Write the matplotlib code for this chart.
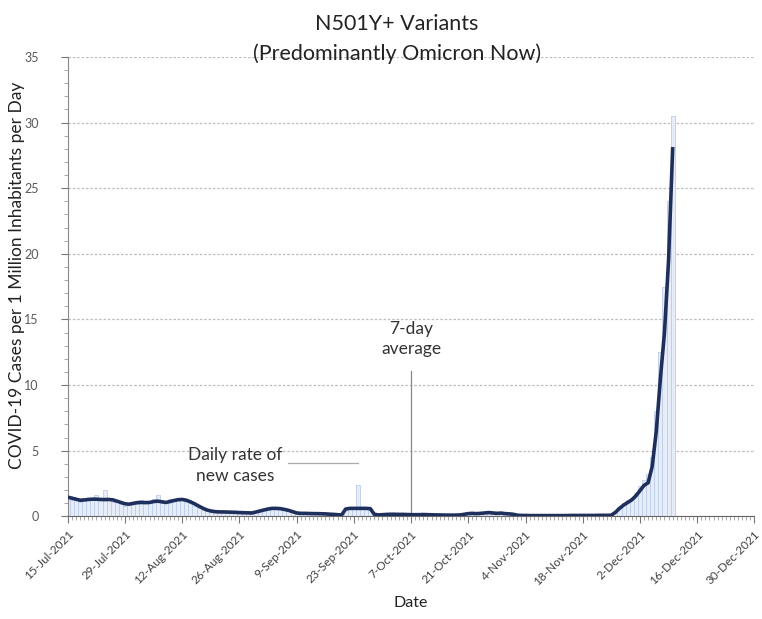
import numpy as np
import pandas as pd
import matplotlib
matplotlib.use("Agg")
from matplotlib import pyplot as plt
from matplotlib.ticker import MultipleLocator

plt.rcParams['font.family'] = ['Lato', 'DejaVu Sans']

start_date = '2021-07-15'

# 7-day average, one value per day starting 15-Jul-2021
avg_7day = [
    1.45, 1.38, 1.30, 1.22, 1.24, 1.28, 1.30,
    1.30, 1.28, 1.27, 1.28, 1.25, 1.15, 1.05,
    0.95, 0.92, 0.98, 1.04, 1.05, 1.04, 1.05,
    1.12, 1.15, 1.10, 1.05, 1.12, 1.20, 1.26,
    1.28, 1.22, 1.10, 0.95, 0.78, 0.62, 0.48,
    0.40, 0.35, 0.33, 0.33, 0.32, 0.31, 0.30,
    0.28, 0.27, 0.26, 0.25, 0.32, 0.40, 0.48,
    0.55, 0.60, 0.60, 0.58, 0.52, 0.45, 0.35,
    0.25, 0.22, 0.22, 0.21, 0.20, 0.20, 0.19,
    0.18, 0.16, 0.14, 0.12, 0.10, 0.55, 0.60,
    0.60, 0.60, 0.60, 0.60, 0.58, 0.15, 0.10,
    0.12, 0.14, 0.15, 0.15, 0.14, 0.14, 0.13,
    0.12, 0.12, 0.12, 0.13, 0.12, 0.11, 0.10,
    0.10, 0.09, 0.09, 0.08, 0.09, 0.10, 0.15,
    0.20, 0.22, 0.20, 0.22, 0.25, 0.28, 0.25,
    0.22, 0.24, 0.20, 0.18, 0.15, 0.08, 0.06,
    0.06, 0.05, 0.05, 0.05, 0.05, 0.05, 0.05,
    0.05, 0.05, 0.05, 0.05, 0.06, 0.06, 0.06,
    0.06, 0.06, 0.06, 0.06, 0.07, 0.07, 0.07,
    0.08, 0.30, 0.60, 0.85, 1.05, 1.25, 1.55,
    1.95, 2.35, 2.55, 3.80, 6.50, 10.5, 14.0, 19.5, 28.0,
]

# daily rate of new cases
daily_rate = [
    1.5, 1.2, 1.4, 1.1, 1.3, 1.2, 1.4,
    1.6, 1.2, 2.0, 1.3, 1.1, 1.2, 0.9,
    0.8, 1.0, 1.1, 0.9, 1.2, 1.0, 1.1,
    1.3, 1.6, 1.0, 1.1, 1.3, 1.2, 1.4,
    1.3, 1.1, 1.0, 0.8, 0.6, 0.5, 0.4,
    0.4, 0.3, 0.35, 0.3, 0.35, 0.3, 0.3,
    0.3, 0.25, 0.3, 0.2, 0.4, 0.45, 0.5,
    0.6, 0.65, 0.6, 0.55, 0.5, 0.4, 0.3,
    0.25, 0.2, 0.25, 0.2, 0.2, 0.2, 0.2,
    0.2, 0.15, 0.15, 0.1, 0.1, 0.6, 0.6,
    0.6, 2.4, 0.6, 0.6, 0.6, 0.15, 0.1,
    0.15, 0.15, 0.2, 0.15, 0.1, 0.15, 0.1,
    0.1, 0.15, 0.1, 0.15, 0.1, 0.1, 0.1,
    0.1, 0.1, 0.05, 0.1, 0.1, 0.1, 0.2,
    0.25, 0.2, 0.2, 0.3, 0.25, 0.35, 0.2,
    0.2, 0.3, 0.2, 0.15, 0.15, 0.05, 0.05,
    0.05, 0.05, 0.05, 0.05, 0.05, 0.05, 0.05,
    0.05, 0.05, 0.05, 0.05, 0.05, 0.05, 0.05,
    0.05, 0.05, 0.05, 0.05, 0.1, 0.1, 0.1,
    0.1, 0.3, 0.7, 1.0, 1.2, 1.4, 1.8,
    2.3, 2.8, 3.2, 4.5, 8.0, 12.5, 17.5, 24.0, 30.5,
]

tick_labels = ['15-Jul-2021', '29-Jul-2021', '12-Aug-2021', '26-Aug-2021',
               '9-Sep-2021', '23-Sep-2021', '7-Oct-2021', '21-Oct-2021',
               '4-Nov-2021', '18-Nov-2021', '2-Dec-2021', '16-Dec-2021',
               '30-Dec-2021']

dates = pd.date_range(start_date, periods=len(avg_7day))
tick_dates = pd.to_datetime(tick_labels, format='%d-%b-%Y')

fig = plt.figure(figsize=(7.62, 6.19), dpi=100)
ax = fig.add_axes([0.089, 0.166, 0.901, 0.742])

ax.bar(dates, daily_rate, width=1.0, color='#e6edf8', edgecolor='#bccde9',
       linewidth=0.6, zorder=2)
ax.plot(dates, avg_7day, color='#1f2f5c', linewidth=2.6, zorder=3)

ax.set_xlim(tick_dates[0], tick_dates[-1])
ax.set_ylim(0, 35)
ax.yaxis.set_major_locator(MultipleLocator(5))
ax.yaxis.set_minor_locator(MultipleLocator(1))
ax.set_xticks(tick_dates)
ax.set_xticklabels(tick_labels, rotation=45, ha='right', rotation_mode='anchor',
                   fontsize=8.5, color='#404040')
ax.set_xticks(pd.date_range(tick_dates[0], tick_dates[-1]), minor=True)
ax.tick_params(axis='x', which='major', length=5, color='#777777', pad=4)
ax.tick_params(axis='x', which='minor', length=3, color='#999999')
ax.tick_params(axis='y', which='major', length=5, color='#777777',
               labelsize=9, labelcolor='#595959', pad=16)
ax.tick_params(axis='y', which='minor', length=3, color='#999999')

ax.grid(axis='y', which='major', linestyle=(0, (2, 1.5)), color='#bfbfbf',
        linewidth=0.9, zorder=0)
ax.set_axisbelow(True)

for side in ['top', 'right']:
    ax.spines[side].set_visible(False)
ax.spines['left'].set_color('#888888')
ax.spines['bottom'].set_color('#666666')

ax.set_ylabel('COVID-19 Cases per 1 Million Inhabitants per Day', fontsize=12.5,
              color='#222222')
ax.yaxis.set_label_coords(-0.062, 0.525)
ax.set_xlabel('Date', fontsize=11.5, color='#222222', labelpad=6)

fig.text(0.521, 0.962, 'N501Y+ Variants', ha='center', va='center',
         fontsize=15.5, color='#222222')
fig.text(0.521, 0.913, '(Predominantly Omicron Now)', ha='center', va='center',
         fontsize=15.5, color='#222222')

# annotations
ax.text(pd.Timestamp('2021-08-25'), 3.85, 'Daily rate of\nnew cases', ha='center',
        va='center', fontsize=12.5, color='#333333', linespacing=1.35)
ax.plot([pd.Timestamp('2021-09-07'), pd.Timestamp('2021-09-24')], [4.05, 4.05],
        color='#aaaaaa', linewidth=0.9, zorder=1)

ax.text(pd.Timestamp('2021-10-07'), 13.5, '7-day\naverage', ha='center',
        va='center', fontsize=12.5, color='#333333', linespacing=1.35)
ax.plot([pd.Timestamp('2021-10-07'), pd.Timestamp('2021-10-07')], [0.1, 11.1],
        color='#888888', linewidth=0.9, zorder=1)

fig.savefig('out.png', dpi=100)
